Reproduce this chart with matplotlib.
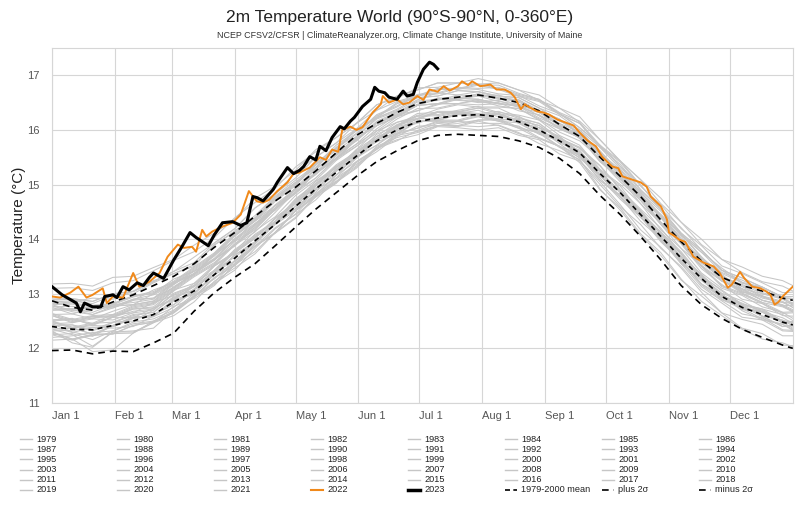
import matplotlib
matplotlib.use("Agg")
import matplotlib.pyplot as plt
from matplotlib.lines import Line2D

plt.rcParams['font.family'] = ['Liberation Sans', 'DejaVu Sans']

# day-of-year nodes (Jan 1 = 0) used for the climatology and the gray years
nodes = [0, 10, 20, 30, 40, 50, 60, 70, 80, 90,
         100, 110, 120, 130, 140, 150, 160, 170, 180, 190,
         200, 210, 220, 230, 240, 250, 260, 270, 280, 290,
         300, 310, 320, 330, 340, 350, 360, 365]

# 1979-2000 mean and +/- 2 sigma, deg C
mean_7900 = [12.40, 12.35, 12.34, 12.42, 12.50, 12.62, 12.85, 13.05, 13.35, 13.65,
             13.97, 14.27, 14.60, 14.92, 15.22, 15.52, 15.80, 16.00, 16.15, 16.22,
             16.26, 16.28, 16.24, 16.15, 16.00, 15.80, 15.58, 15.20, 14.85, 14.45,
             14.05, 13.65, 13.28, 12.95, 12.75, 12.62, 12.48, 12.43]
plus_2sd = [12.87, 12.75, 12.70, 12.85, 12.98, 13.15, 13.32, 13.55, 13.85, 14.12,
            14.42, 14.70, 14.95, 15.25, 15.58, 15.90, 16.12, 16.32, 16.48, 16.56,
            16.60, 16.64, 16.58, 16.50, 16.35, 16.10, 15.88, 15.50, 15.15, 14.78,
            14.35, 13.95, 13.60, 13.30, 13.15, 13.05, 12.92, 12.88]
minus_2sd = [11.96, 11.97, 11.90, 11.95, 11.94, 12.10, 12.28, 12.68, 13.02, 13.30,
             13.55, 13.88, 14.22, 14.55, 14.85, 15.15, 15.42, 15.62, 15.80, 15.90,
             15.92, 15.90, 15.88, 15.80, 15.68, 15.48, 15.20, 14.80, 14.45, 14.05,
             13.62, 13.15, 12.80, 12.55, 12.35, 12.20, 12.06, 12.00]

# gray years: departure from the 1979-2000 mean at the nodes, in 0.01 deg C
y1979 = [-5, -10, -30, -12, -20, -15, -8, -14, -20, -12, -10, -16, -22, -14, -10, -15, -20, -12, -8, -14,
         -18, -10, -6, -12, -16, -10, -14, -15, -22, -28, -20, -18, -25, -30, -22, -18, -25, -20]
y1980 = [-20, -12, -5, -10, -2, -8, -15, -5, 0, -10, -6, 2, -4, -10, -5, 0, -8, -3, 2, -6,
         -10, -2, 4, -3, -8, 0, -6, -12, -4, 2, -6, -10, 0, -5, 3, -4, -8, -2]
y1981 = [5, -5, -12, 0, 8, -4, -10, 2, 6, -6, -2, 4, -5, 0, 6, -3, -8, 2, 0, -5,
         3, -2, -6, 4, 0, -4, 5, -2, -8, 0, 6, -3, -10, 2, -4, 5, 0, -6]
y1982 = [-10, -18, -8, -15, -22, -12, -18, -10, -16, -22, -14, -8, -15, -20, -12, -18, -10, -14, -20, -15,
         -10, -16, -12, -8, -14, -10, -5, -12, -8, -2, -8, -4, 2, -5, 0, 5, -2, 4]
y1983 = [10, 18, 12, 20, 15, 8, 16, 10, 5, 12, 6, 0, 8, 2, -5, 4, -2, -8, 0, -5,
         2, -3, -8, -2, 4, -5, -10, -3, -8, -12, -5, -10, -15, -8, -12, -6, -14, -10]
y1984 = [-8, -25, -32, -12, -18, -25, -15, -10, -18, -12, -20, -14, -8, -15, -20, -12, -16, -10, -18, -14,
         -20, -12, -16, -22, -15, -10, -18, -30, -28, -35, -30, -38, -42, -35, -40, -45, -38, -40]
y1985 = [-25, -18, -40, -45, -22, -15, -25, -20, -12, -18, -24, -15, -20, -12, -18, -22, -14, -20, -16, -10,
         -18, -22, -15, -20, -25, -18, -12, -28, -32, -38, -35, -40, -32, -30, -38, -35, -42, -38]
y1986 = [-15, -8, -18, -10, -5, -12, -18, -8, -14, -6, -10, -15, -8, -12, -5, -10, -15, -8, -12, -6,
         -10, -4, -8, -12, -5, -10, -2, -8, -12, -5, 0, -6, -10, -2, 5, -3, -8, 0]
y1987 = [-5, 3, -8, -2, 5, -4, 2, -6, 0, 6, -2, 4, 8, 0, 5, 10, 4, 8, 12, 6,
         10, 15, 8, 12, 18, 10, 14, 8, 15, 20, 12, 18, 10, 15, 22, 14, 18, 12]
y1988 = [20, 12, 25, 15, 18, 10, 22, 14, 8, 16, 10, 5, 12, 6, 10, 2, 8, 0, 6, -2,
         4, 8, 0, 5, -4, 2, -6, 0, 4, -5, -2, -8, -4, 2, -6, -10, -4, -8]
y1989 = [-15, -20, -10, -16, -8, -14, -20, -10, -5, -12, -6, 0, -8, -2, -10, -4, 2, -6, 0, -4,
         -8, 0, 4, -2, -6, 2, -4, 4, 0, -5, 2, 8, 0, 5, -2, 6, 0, 4]
y1990 = [5, 12, 20, 10, 15, 22, 12, 8, 16, 10, 4, 12, 6, 10, 14, 8, 4, 10, 6, 12,
         8, 2, 10, 6, 12, 4, 8, 14, 6, 10, 15, 8, 4, 12, 6, 10, 14, 8]
y1991 = [8, 2, 10, 15, 6, 12, 4, 10, 16, 8, 12, 6, 14, 10, 4, 12, 8, 14, 6, 10,
         4, 0, 6, -2, 4, 8, 0, -4, 2, 6, -2, 4, 0, -5, 2, -3, 4, -2]
y1992 = [0, -6, 4, -2, 6, 0, -5, 2, -8, -4, -10, -6, -14, -8, -16, -20, -12, -18, -24, -16,
         -22, -28, -20, -25, -18, -24, -15, -20, -26, -18, -22, -15, -20, -12, -18, -10, -16, -12]
y1993 = [-12, -18, -10, -15, -8, -14, -20, -12, -6, -14, -10, -16, -8, -12, -18, -10, -14, -6, -12, -8,
         -14, -10, -4, -10, -6, -12, -8, -2, -8, -4, -10, -5, -12, -6, -2, -8, -4, -10]
y1994 = [-8, -2, 5, -5, -10, -3, 4, -4, 2, 6, -2, 4, 0, -6, 2, 6, 0, 4, -3, 2,
         6, 0, -4, 3, 8, 2, -2, 5, 0, 8, 4, 10, 2, 6, 12, 5, 8, 3]
y1995 = [12, 20, 8, 15, 22, 12, 6, 14, 18, 10, 5, 12, 8, 14, 10, 4, 12, 8, 15, 10,
         6, 12, 16, 8, 12, 5, 10, 15, 6, 2, 8, 12, 4, 0, 6, 10, 2, 6]
y1996 = [-5, 2, -8, 0, 6, -2, 4, 8, 0, 5, -2, 4, 0, 6, 2, -4, 3, 6, 0, -2,
         4, 0, 6, 2, -3, 4, 0, -5, 2, 5, -2, 4, 8, 2, -3, 5, 0, 4]
y1997 = [2, 8, -2, 5, 10, 4, 8, 2, 6, 12, 8, 4, 10, 14, 8, 12, 18, 14, 10, 16,
         20, 14, 18, 24, 20, 16, 22, 28, 24, 30, 26, 32, 28, 34, 38, 32, 36, 40]
y1998 = [42, 50, 58, 48, 55, 62, 52, 45, 55, 48, 42, 50, 44, 38, 45, 50, 42, 36, 40, 46,
         38, 42, 35, 40, 32, 28, 34, 30, 25, 30, 22, 26, 18, 22, 15, 20, 12, 16]
y1999 = [10, 2, 8, -2, 5, 0, -5, 4, 8, 2, -4, 4, 0, 6, 10, 4, 0, 6, 10, 4,
         8, 12, 6, 2, 8, 4, 10, 6, 0, 5, 8, 2, 6, 10, 4, 8, 2, 6]
y2000 = [2, 8, 0, 6, 12, 4, 10, 2, 8, 14, 6, 10, 4, 8, 12, 6, 2, 8, 4, 10,
         6, 0, 5, 10, 4, 8, 2, 6, 12, 4, 8, 0, 6, 2, 8, 4, 0, 5]
y2001 = [12, 18, 10, 16, 22, 14, 20, 26, 18, 24, 16, 22, 28, 20, 25, 18, 22, 28, 20, 24,
         30, 22, 26, 20, 28, 24, 30, 22, 26, 32, 24, 30, 22, 28, 34, 26, 30, 24]
y2002 = [35, 28, 40, 32, 38, 45, 35, 30, 38, 32, 28, 34, 26, 30, 36, 28, 32, 26, 30, 34,
         28, 24, 30, 26, 32, 28, 35, 30, 26, 32, 36, 30, 38, 32, 28, 34, 30, 36]
y2003 = [38, 32, 28, 35, 30, 25, 32, 36, 28, 24, 30, 26, 32, 28, 24, 30, 34, 28, 32, 36,
         30, 34, 28, 32, 36, 30, 26, 32, 38, 30, 34, 40, 32, 36, 30, 26, 32, 28]
y2004 = [30, 36, 28, 32, 38, 30, 26, 32, 28, 22, 26, 30, 24, 20, 26, 22, 18, 24, 20, 26,
         22, 18, 24, 28, 22, 26, 30, 24, 28, 32, 26, 30, 34, 28, 32, 26, 30, 24]
y2005 = [32, 38, 42, 35, 40, 30, 36, 32, 38, 42, 36, 30, 34, 38, 32, 36, 40, 34, 30, 36,
         32, 38, 34, 40, 36, 32, 38, 42, 36, 32, 38, 34, 30, 36, 40, 34, 38, 32]
y2006 = [22, 28, 20, 26, 30, 24, 28, 32, 26, 30, 24, 28, 32, 26, 30, 34, 28, 24, 30, 26,
         32, 28, 24, 30, 34, 28, 32, 36, 30, 34, 38, 32, 36, 40, 34, 38, 42, 36]
y2007 = [48, 55, 45, 40, 46, 38, 42, 36, 30, 36, 32, 28, 34, 30, 26, 32, 28, 24, 30, 26,
         22, 28, 24, 30, 26, 22, 28, 24, 20, 26, 22, 18, 24, 20, 26, 22, 18, 24]
y2008 = [10, 4, 12, 6, 0, 8, 14, 10, 16, 12, 18, 14, 20, 16, 22, 18, 14, 20, 24, 18,
         22, 26, 20, 24, 18, 22, 28, 22, 26, 20, 24, 28, 22, 18, 24, 20, 16, 22]
y2009 = [22, 16, 24, 18, 26, 20, 24, 30, 22, 26, 20, 28, 24, 30, 26, 32, 28, 34, 30, 36,
         32, 38, 34, 30, 36, 40, 34, 38, 42, 36, 40, 44, 38, 42, 46, 40, 44, 38]
y2010 = [45, 52, 48, 55, 50, 58, 52, 48, 54, 50, 46, 52, 48, 44, 50, 46, 42, 48, 44, 40,
         46, 42, 38, 44, 40, 36, 42, 38, 32, 38, 34, 30, 36, 32, 28, 34, 30, 26]
y2011 = [20, 14, 22, 16, 24, 18, 22, 28, 20, 26, 22, 28, 24, 30, 26, 22, 28, 24, 30, 26,
         32, 28, 24, 30, 26, 32, 28, 24, 30, 26, 22, 28, 24, 30, 26, 22, 28, 24]
y2012 = [24, 18, 26, 20, 28, 22, 26, 32, 28, 34, 30, 36, 32, 28, 34, 30, 36, 32, 38, 34,
         30, 36, 32, 38, 34, 40, 36, 32, 38, 34, 40, 36, 32, 38, 34, 30, 36, 32]
y2013 = [30, 36, 32, 38, 34, 28, 34, 30, 36, 32, 38, 34, 30, 36, 32, 28, 34, 30, 36, 32,
         38, 34, 40, 36, 32, 38, 34, 40, 36, 42, 38, 44, 40, 36, 42, 38, 44, 40]
y2014 = [36, 42, 38, 34, 40, 36, 32, 38, 34, 40, 36, 42, 38, 44, 40, 36, 42, 38, 44, 40,
         46, 42, 38, 44, 40, 46, 42, 48, 44, 40, 46, 42, 48, 44, 50, 46, 42, 48]
y2015 = [42, 48, 44, 40, 46, 42, 38, 44, 40, 46, 42, 48, 44, 40, 46, 42, 48, 44, 50, 46,
         52, 48, 54, 50, 56, 52, 58, 62, 58, 64, 70, 66, 72, 68, 74, 70, 76, 72]
y2016 = [78, 84, 80, 88, 82, 86, 78, 84, 76, 72, 78, 70, 66, 72, 64, 60, 66, 58, 62, 56,
         60, 54, 58, 52, 56, 50, 54, 48, 52, 46, 50, 44, 48, 52, 46, 50, 44, 48]
y2017 = [50, 56, 52, 58, 54, 60, 56, 52, 58, 54, 60, 56, 52, 58, 54, 50, 56, 52, 48, 54,
         50, 56, 52, 48, 54, 50, 46, 52, 48, 54, 50, 46, 52, 48, 54, 50, 46, 52]
y2018 = [40, 46, 42, 38, 44, 40, 36, 42, 38, 44, 40, 46, 42, 48, 44, 40, 46, 42, 48, 44,
         50, 46, 42, 48, 44, 50, 46, 52, 48, 44, 50, 46, 52, 48, 44, 50, 46, 52]
y2019 = [50, 56, 52, 58, 54, 60, 56, 62, 58, 54, 60, 56, 62, 58, 54, 60, 56, 62, 58, 64,
         60, 66, 62, 58, 64, 60, 66, 62, 58, 64, 60, 66, 62, 68, 64, 60, 66, 62]
y2020 = [70, 76, 72, 78, 74, 80, 76, 72, 68, 74, 70, 66, 72, 68, 64, 60, 66, 62, 58, 64,
         60, 56, 62, 58, 54, 60, 56, 52, 58, 54, 50, 56, 52, 48, 54, 50, 46, 52]
y2021 = [40, 34, 42, 36, 30, 38, 34, 40, 36, 42, 38, 44, 40, 46, 42, 48, 44, 50, 46, 52,
         48, 54, 50, 46, 52, 48, 54, 50, 56, 52, 58, 54, 60, 56, 62, 58, 54, 60]

gray_years = list(range(1979, 2022))
gray_anoms = [y1979, y1980, y1981, y1982, y1983, y1984, y1985, y1986, y1987, y1988,
              y1989, y1990, y1991, y1992, y1993, y1994, y1995, y1996, y1997, y1998,
              y1999, y2000, y2001, y2002, y2003, y2004, y2005, y2006, y2007, y2008,
              y2009, y2010, y2011, y2012, y2013, y2014, y2015, y2016, y2017, y2018,
              y2019, y2020, y2021]

days_2022 = [0, 4, 9, 13, 17, 20, 25, 27, 30, 35, 40, 43, 48, 53, 57, 62, 65, 69, 71, 74,
             76, 79, 84, 89, 93, 97, 101, 104, 107, 111, 116, 119, 122, 127, 132, 135, 138, 141, 143, 147,
             150, 153, 158, 162, 163, 166, 170, 173, 176, 180, 183, 186, 190, 193, 196, 200, 202, 205, 207, 211,
             216, 219, 223, 226, 228, 231, 233, 235, 239, 242, 245, 249, 252, 257, 260, 264, 268, 271, 276, 279,
             281, 285, 290, 293, 295, 300, 303, 304, 307, 309, 312, 316, 321, 326, 329, 333, 335, 339, 341, 345,
             349, 352, 354, 356, 358, 360, 365]
temp_2022 = [12.95, 12.93, 13.02, 13.13, 12.93, 12.98, 13.10, 12.83, 12.95, 12.93,
             13.38, 13.13, 13.22, 13.38, 13.68, 13.90, 13.84, 13.86, 13.77, 14.17,
             14.05, 14.14, 14.23, 14.30, 14.45, 14.88, 14.69, 14.67, 14.72, 14.88,
             15.04, 15.20, 15.22, 15.31, 15.50, 15.45, 15.64, 15.60, 16.00, 16.06,
             16.00, 16.05, 16.32, 16.47, 16.62, 16.50, 16.56, 16.47, 16.50, 16.62,
             16.55, 16.74, 16.70, 16.80, 16.72, 16.80, 16.89, 16.82, 16.89, 16.80,
             16.83, 16.74, 16.74, 16.68, 16.60, 16.38, 16.47, 16.42, 16.34, 16.32,
             16.28, 16.19, 16.15, 16.08, 15.95, 15.80, 15.70, 15.51, 15.33, 15.30,
             15.15, 15.10, 15.04, 14.96, 14.78, 14.60, 14.36, 14.12, 14.05, 13.99,
             13.95, 13.68, 13.57, 13.50, 13.38, 13.11, 13.17, 13.40, 13.29, 13.13,
             13.10, 13.04, 12.98, 12.80, 12.85, 12.95, 13.13]

days_2023 = [0, 5, 12, 14, 16, 20, 24, 26, 30, 32, 35, 38, 42, 45, 48, 50, 55, 60, 64, 68,
             71, 77, 80, 84, 89, 93, 96, 99, 101, 104, 109, 111, 116, 119, 122, 124, 127, 130, 132, 135,
             138, 142, 144, 147, 149, 153, 157, 159, 161, 164, 166, 170, 173, 175, 178, 180, 183, 186, 188, 190]
temp_2023 = [13.13, 12.98, 12.83, 12.67, 12.83, 12.76, 12.76, 12.95, 12.98, 12.93,
             13.13, 13.07, 13.20, 13.15, 13.30, 13.38, 13.28, 13.62, 13.86, 14.12,
             14.03, 13.88, 14.08, 14.30, 14.32, 14.25, 14.30, 14.78, 14.76, 14.70,
             14.91, 15.04, 15.31, 15.20, 15.26, 15.33, 15.51, 15.45, 15.70, 15.62,
             15.86, 16.06, 16.02, 16.16, 16.23, 16.43, 16.56, 16.78, 16.71, 16.68,
             16.60, 16.56, 16.71, 16.62, 16.65, 16.87, 17.11, 17.24, 17.20, 17.12]

month_days = [0, 31, 59, 90, 120, 151, 181, 212, 243, 273, 304, 334]
month_labels = ['Jan 1', 'Feb 1', 'Mar 1', 'Apr 1', 'May 1', 'Jun 1',
                'Jul 1', 'Aug 1', 'Sep 1', 'Oct 1', 'Nov 1', 'Dec 1']

GRAY = '#c6c6c6'
ORANGE = '#f0891a'

fig = plt.figure(figsize=(8.0, 5.09), dpi=100)
ax = fig.add_axes([0.065, 0.2083, 0.926, 0.6974])

for yr, anom in zip(gray_years, gray_anoms):
    vals = [m + a / 100.0 for m, a in zip(mean_7900, anom)]
    ax.plot(nodes, vals, color=GRAY, lw=0.75, zorder=2)

ax.plot(nodes, plus_2sd, color='black', lw=1.2, ls=(0, (4, 3)), zorder=3)
ax.plot(nodes, minus_2sd, color='black', lw=1.2, ls=(0, (4, 3)), zorder=3)
ax.plot(nodes, mean_7900, color='black', lw=1.2, ls=(0, (3, 2.5)), zorder=3)
ax.plot(days_2022, temp_2022, color=ORANGE, lw=1.4, zorder=4)
ax.plot(days_2023, temp_2023, color='black', lw=2.2, zorder=5)

ax.set_xlim(0, 365)
ax.set_ylim(11, 17.5)
ax.set_yticks([11, 12, 13, 14, 15, 16, 17])
ax.set_xticks(month_days)
ax.set_xticklabels(month_labels, ha='left')
ax.tick_params(length=0, labelsize=8, colors='#555555', pad=6)
ax.tick_params(axis='y', pad=9)
ax.grid(True, color='#d6d6d6', lw=0.8)
ax.set_axisbelow(True)
for s in ax.spines.values():
    s.set_color('#d6d6d6')
    s.set_linewidth(0.8)
ax.set_ylabel('Temperature (°C)', fontsize=11, color='#222222', labelpad=1)

fig.text(0.5, 0.966, '2m Temperature World (90°S-90°N, 0-360°E)', ha='center', va='center',
         fontsize=12.5, color='#222222')
fig.text(0.5, 0.931, 'NCEP CFSV2/CFSR | ClimateReanalyzer.org, Climate Change Institute, University of Maine',
         ha='center', va='center', fontsize=6.4, color='#333333')

# legend, 8 columns x 6 rows, filled row by row
leg_items = [(str(yr), GRAY, 1.0, '-') for yr in gray_years]
leg_items.append(('2022', ORANGE, 1.5, '-'))
leg_items.append(('2023', 'black', 2.5, '-'))
leg_items.append(('1979-2000 mean', 'black', 1.2, (0, (3, 2))))
leg_items.append(('plus 2σ', 'black', 1.2, (0, (4, 3, 1, 3))))
leg_items.append(('minus 2σ', 'black', 1.2, (0, (4, 3, 1, 3))))

W, H = 800.0, 509.0
for i, (lab, col, lw, ls) in enumerate(leg_items):
    r, c = divmod(i, 8)
    x0 = 20 + c * 97
    yc = 439 + r * 10.2
    fig.add_artist(Line2D([x0 / W, (x0 + 12) / W], [1 - yc / H, 1 - yc / H],
                          color=col, lw=lw, ls=ls, transform=fig.transFigure))
    fig.text((x0 + 16) / W, 1 - yc / H, lab, ha='left', va='center', fontsize=6.6, color='#222222')

fig.savefig('out.png', dpi=100)
